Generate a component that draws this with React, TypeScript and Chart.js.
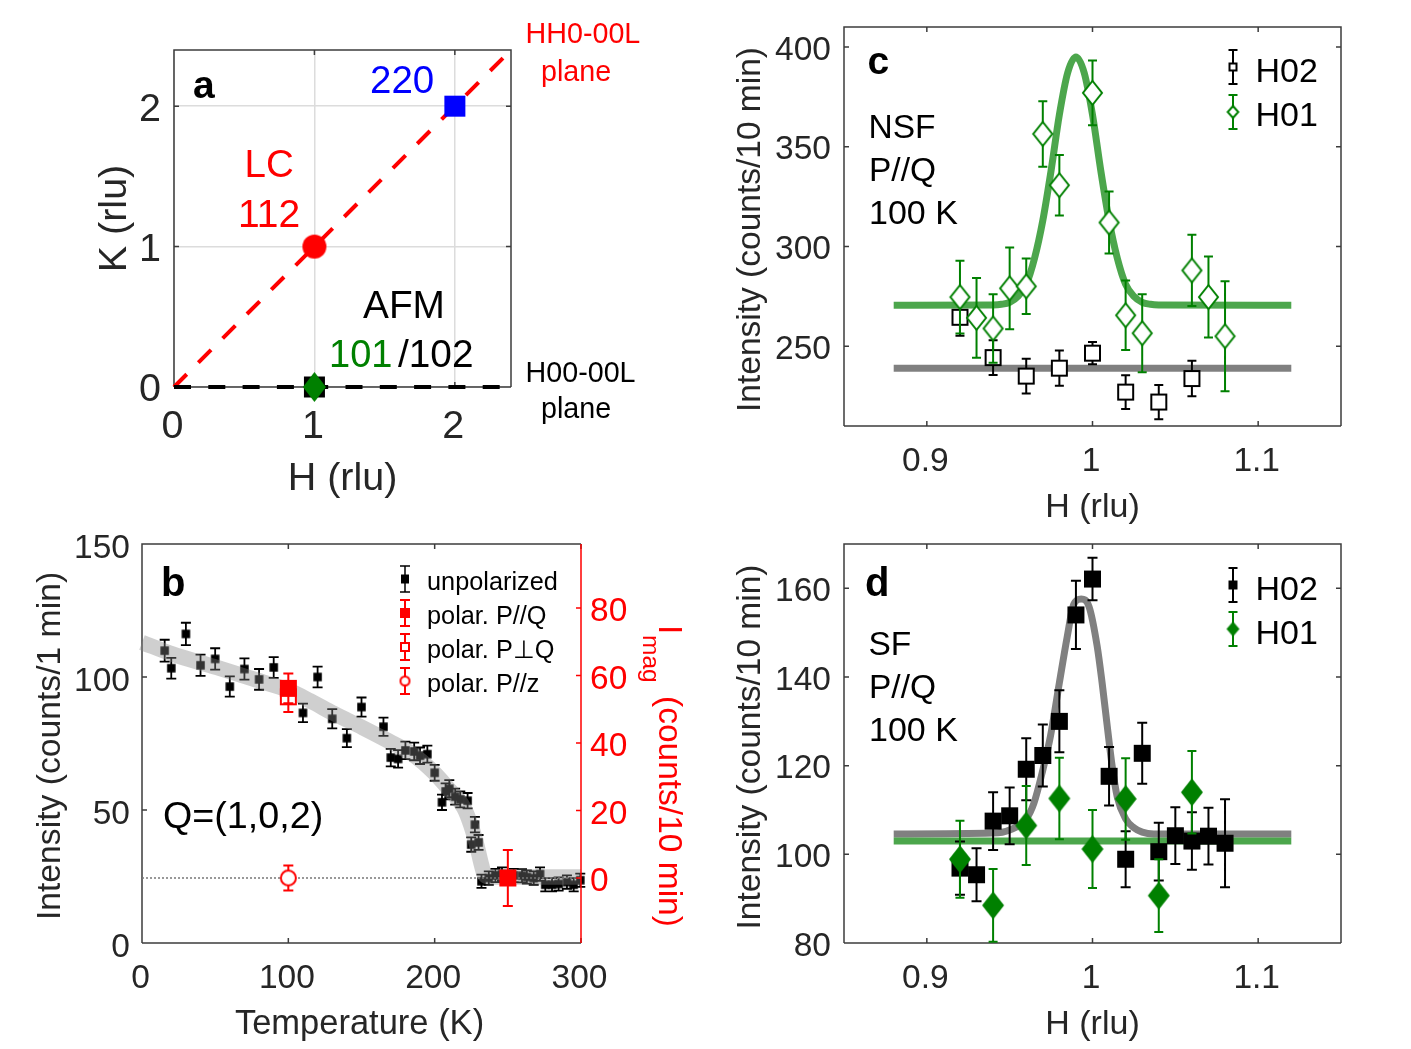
import { useEffect, useRef } from "react"
import { Chart, registerables } from "chart.js"

Chart.register(...registerables)

const FONT = '"Liberation Sans", Arial, sans-serif'
const TICK_COLOR = "#262626"
const FRAME_COLOR = "#3c3c3c"
const RED = "#ff0000"
const GREEN = "#008000"
const BLACK = "#000000"
const FIT_GREEN = "rgba(0,128,0,0.7)"
const FIT_GREY = "#808080"
const BAND_GREY = "rgba(131,131,131,0.39)"

// tick values
const aTicks = [0, 1, 2]
const bXTicks = [0, 100, 200, 300]
const bYTicks = [0, 50, 100, 150]
const bRightTicks = [0, 20, 40, 60, 80]
const scanXTicks = [0.9, 1, 1.1]
const cYTicks = [250, 300, 350, 400]
const dYTicks = [80, 100, 120, 140, 160]

// panel a: reciprocal space map
const aLineX = [0, 2.36]
const aDiagY = [0, 2.36]
const aFlatY = [0, 0]
const aBlueX = [2]
const aBlueY = [2]
const aRedX = [1]
const aRedY = [1]
const aAfmX = [1]
const aAfmY = [0]

// panel b: unpolarized order parameter
const bTemp = [15.5, 20, 30, 40, 50, 60, 70, 80, 90, 110, 120, 130, 140, 150, 165, 170, 175, 180, 186, 190, 195, 200, 205, 207.5, 210, 214, 217.5, 222.5, 225, 227.5, 230, 232, 237, 241.5, 246, 254, 259.7, 263, 267.7, 272, 275.6, 280.2, 284.7, 290.4, 295, 299.5]
const bCounts = [109.9, 103.3, 116.2, 104.4, 106.8, 96.4, 103, 99.1, 103.6, 86.5, 100, 84.3, 77, 88.7, 81.3, 69.7, 69.2, 72.4, 72, 70.4, 71, 64, 52.9, 57, 58, 55, 54, 53.5, 37, 44.5, 37.8, 23.2, 24.4, 25.4, 25.9, 25.4, 25.3, 24.8, 24.4, 25.9, 21.9, 21.9, 22.2, 22.9, 21.9, 23.6]
const bErrors = [4.1, 3.9, 4.2, 4, 4, 3.8, 4, 3.9, 3.9, 3.5, 3.9, 3.6, 3.4, 3.6, 3.4, 3.3, 3.3, 3.3, 3.3, 3.1, 3.2, 3, 2.9, 3, 3.2, 3, 3, 2.9, 2.7, 2.9, 2.8, 2.5, 2.5, 2.5, 2.5, 2.5, 2.5, 2.5, 2.5, 2.5, 2.5, 2.5, 2.5, 2.5, 2.5, 2.5]
const bFitTemp = [0, 21, 51, 78, 100, 115, 131, 151, 165, 185, 200, 210, 220, 225, 229, 232, 234, 238, 300]
const bFitCounts = [113, 108.6, 103.6, 98.9, 95, 91, 86.3, 80.9, 76.9, 70.9, 63.8, 57.6, 50.8, 43.9, 36.3, 29.4, 25.7, 24.8, 24.8]
const bZeroX = [0, 300]
const bZeroY = [0, 0]
const bParQTemp = [100, 250]
const bParQ = [56.2, 0]
const bParQErr = [4.4, 8.3]
const bPerpQTemp = [100]
const bPerpQ = [53.7]
const bPerpQErr = [4.5]
const bParZTemp = [100]
const bParZ = [0]
const bParZErr = [3.7]

// panel c: NSF scans
const cH02X = [0.92, 0.94, 0.96, 0.98, 1.0, 1.02, 1.04, 1.06]
const cH02Y = [264.5, 244.3, 235, 239, 246.5, 227, 222, 233.8]
const cH02Err = [9.2, 8.7, 8.7, 8.8, 5.6, 8.5, 8.6, 8.9]
const cH01X = [0.92, 0.93, 0.94, 0.95, 0.96, 0.97, 0.98, 1.0, 1.01, 1.02, 1.03, 1.06, 1.07, 1.08]
const cH01Y = [274.6, 264.2, 258.9, 279, 280, 356.4, 330.7, 377, 312, 265.5, 256.5, 288, 274.6, 255]
const cH01Err = [18.2, 20, 17.2, 20.5, 13.9, 16.4, 15.2, 16.2, 15.5, 17.4, 19.5, 17.9, 20.3, 27.6]
const cPeakX = [0.88, 0.94, 0.945, 0.95, 0.955, 0.96, 0.965, 0.97, 0.975, 0.98, 0.985, 0.99, 0.995, 1.0, 1.005, 1.01, 1.015, 1.02, 1.025, 1.03, 1.035, 1.04, 1.12]
const cPeakY = [270.5, 270.7, 271, 272, 275, 281, 294, 313, 338, 366, 387, 395, 387, 366, 338, 313, 294, 281, 275, 272, 271, 270.7, 270.5]
const cFlatX = [0.88, 1.12]
const cFlatY = [239, 239]

// panel d: SF scans
const dH02X = [0.92, 0.93, 0.94, 0.95, 0.96, 0.97, 0.98, 0.99, 1.0, 1.01, 1.02, 1.03, 1.04, 1.05, 1.06, 1.07, 1.08]
const dH02Y = [96.9, 95.4, 107.5, 108.7, 119.2, 122.3, 130, 154, 162.1, 117.6, 98.9, 122.8, 100.6, 104.2, 103, 104.1, 102.5]
const dH02Err = [6, 6, 6.5, 6.4, 7, 7, 7, 7.7, 4.8, 6.6, 6.3, 6.9, 6.5, 6.4, 6.5, 6.4, 9.9]
const dH01X = [0.92, 0.94, 0.96, 0.98, 1.0, 1.02, 1.04, 1.06]
const dH01Y = [98.9, 88.5, 106.5, 112.6, 101.2, 112.5, 90.7, 114]
const dH01Err = [8.7, 8.2, 8.9, 9.2, 8.8, 9.2, 8.2, 9.3]
const dPeakX = [0.88, 0.94, 0.95, 0.96, 0.9646, 0.97, 0.9746, 0.98, 0.9847, 0.9887, 0.9932, 0.9978, 1.0028, 1.0058, 1.0089, 1.0119, 1.0149, 1.02, 1.025, 1.03, 1.037, 1.12]
const dPeakY = [104.6, 104.8, 105.5, 108, 111.5, 119, 126.6, 138.7, 149, 156.4, 157.6, 156, 147, 138.7, 128.9, 119.8, 113, 108, 106, 105, 104.6, 104.6]
const dFlatX = [0.88, 1.12]
const dFlatY = [103, 103]

const bLegendLabels = ["unpolarized", "polar. P//Q", "polar. P\u22A5Q", "polar. P//z"]
const scanLegendLabels = ["H02", "H01"]

type Shape = "square" | "diamond" | "circle"

function marker(shape: Shape, w: number, h: number, fill: string, stroke = "", lw = 0) {
  const c = document.createElement("canvas")
  c.width = Math.ceil(w) + 2
  c.height = Math.ceil(h) + 2
  const ctx = c.getContext("2d")!
  const cx = c.width / 2
  const cy = c.height / 2
  const rx = (w - lw) / 2
  const ry = (h - lw) / 2
  ctx.beginPath()
  if (shape === "square") {
    ctx.rect(cx - rx, cy - ry, rx * 2, ry * 2)
  } else if (shape === "circle") {
    ctx.arc(cx, cy, rx, 0, Math.PI * 2)
  } else {
    ctx.moveTo(cx, cy - ry)
    ctx.lineTo(cx + rx, cy)
    ctx.lineTo(cx, cy + ry)
    ctx.lineTo(cx - rx, cy)
    ctx.closePath()
  }
  ctx.fillStyle = fill
  ctx.fill()
  if (lw > 0) {
    ctx.strokeStyle = stroke
    ctx.lineWidth = lw
    ctx.stroke()
  }
  return c
}

const pts = (xs: number[], ys: number[]) => xs.map((x, i) => ({ x, y: ys[i] }))

function markers(label: string, xs: number[], ys: number[], style: any, errors: number[] | null, errColor: string, errWidth: number, capHalf: number, yAxisID = "y") {
  return {
    label,
    data: pts(xs, ys),
    showLine: false,
    pointStyle: style,
    pointRadius: 5,
    clip: false,
    yAxisID,
    errors,
    errColor,
    errWidth,
    capHalf,
  }
}

function line(xs: number[], ys: number[], color: string, width: number, dash: number[] = [], yAxisID = "y") {
  return {
    data: pts(xs, ys),
    showLine: true,
    borderColor: color,
    borderWidth: width,
    borderDash: dash,
    borderCapStyle: "butt",
    cubicInterpolationMode: xs.length > 2 ? "monotone" : "default",
    pointRadius: 0,
    clip: false,
    yAxisID,
  }
}

// first in the list is painted first
const inPaintOrder = (sets: any[]) => sets.map((d, i) => ({ ...d, order: sets.length - i }))

function panelPlugin(spec: any) {
  const [ox, oy] = spec.origin
  return {
    id: "panel",
    beforeDatasetsDraw(chart: any) {
      const { ctx, chartArea: a, scales } = chart
      const hasRight = !!scales.y2
      ctx.save()
      ctx.strokeStyle = FRAME_COLOR
      ctx.lineWidth = 1.5
      ctx.beginPath()
      ctx.moveTo(a.left, a.bottom)
      ctx.lineTo(a.left, a.top)
      ctx.lineTo(a.right, a.top)
      if (!hasRight) ctx.lineTo(a.right, a.bottom)
      ctx.moveTo(a.right, a.bottom)
      ctx.lineTo(a.left, a.bottom)
      scales.x.ticks.forEach((_: any, i: number) => {
        const px = scales.x.getPixelForTick(i)
        ctx.moveTo(px, a.bottom)
        ctx.lineTo(px, a.bottom - 5)
        ctx.moveTo(px, a.top)
        ctx.lineTo(px, a.top + 5)
      })
      scales.y.ticks.forEach((_: any, i: number) => {
        const py = scales.y.getPixelForTick(i)
        ctx.moveTo(a.left, py)
        ctx.lineTo(a.left + 5, py)
        if (!hasRight) {
          ctx.moveTo(a.right, py)
          ctx.lineTo(a.right - 5, py)
        }
      })
      ctx.stroke()
      ctx.restore()
    },
    beforeDatasetDraw(chart: any, args: any) {
      const ds = chart.data.datasets[args.index]
      if (!ds.errors) return
      const { ctx, scales } = chart
      const xs = scales.x
      const ys = scales[ds.yAxisID]
      ctx.save()
      ctx.strokeStyle = ds.errColor
      ctx.lineWidth = ds.errWidth
      ctx.beginPath()
      ds.data.forEach((p: any, i: number) => {
        const x = xs.getPixelForValue(p.x)
        const top = ys.getPixelForValue(p.y + ds.errors[i])
        const bot = ys.getPixelForValue(p.y - ds.errors[i])
        ctx.moveTo(x, top)
        ctx.lineTo(x, bot)
        ctx.moveTo(x - ds.capHalf, top)
        ctx.lineTo(x + ds.capHalf, top)
        ctx.moveTo(x - ds.capHalf, bot)
        ctx.lineTo(x + ds.capHalf, bot)
      })
      ctx.stroke()
      ctx.restore()
    },
    afterDatasetsDraw(chart: any) {
      const { ctx, chartArea: a, scales } = chart
      ctx.save()
      if (scales.y2) {
        ctx.strokeStyle = RED
        ctx.lineWidth = 1.5
        ctx.beginPath()
        ctx.moveTo(a.right, a.top)
        ctx.lineTo(a.right, a.bottom)
        scales.y2.ticks.forEach((_: any, i: number) => {
          const py = scales.y2.getPixelForTick(i)
          ctx.moveTo(a.right, py)
          ctx.lineTo(a.right - 5, py)
        })
        ctx.stroke()
      }
      ctx.translate(-ox, -oy)
      ;(spec.legend || []).forEach((e: any) => {
        ctx.strokeStyle = e.color
        ctx.lineWidth = e.errWidth
        ctx.beginPath()
        ctx.moveTo(e.x, e.y - e.half)
        ctx.lineTo(e.x, e.y + e.half)
        ctx.moveTo(e.x - e.cap, e.y - e.half)
        ctx.lineTo(e.x + e.cap, e.y - e.half)
        ctx.moveTo(e.x - e.cap, e.y + e.half)
        ctx.lineTo(e.x + e.cap, e.y + e.half)
        ctx.stroke()
        ctx.drawImage(e.glyph, e.x - e.glyph.width / 2, e.y - e.glyph.height / 2)
      })
      ;(spec.notes || []).forEach((n: any) => {
        ctx.save()
        ctx.translate(n.x, n.y)
        if (n.rot) ctx.rotate((n.rot * Math.PI) / 180)
        ctx.font = `${n.bold ? "bold " : ""}${n.size}px ${FONT}`
        ctx.fillStyle = n.color || BLACK
        ctx.textBaseline = n.centred ? "middle" : "alphabetic"
        ctx.textAlign = n.centred ? "center" : "left"
        ctx.fillText(n.text, 0, 0)
        ctx.restore()
      })
      ctx.restore()
    },
  }
}

const note = (text: string, x: number, y: number, size: number, color = BLACK, bold = false, rot = 0) => ({ text, x, y, size, color, bold, rot })
// axis titles that sit a little off the centre of their axis in the reference
const axisTitle = (text: string, x: number, y: number, size: number, rot = 0) => ({ text, x, y, size, color: TICK_COLOR, rot, centred: true })

function axis(o: any) {
  return {
    type: "linear",
    min: o.min,
    max: o.max,
    position: o.position,
    afterBuildTicks: (s: any) => {
      s.ticks = o.ticks.map((value: number) => ({ value }))
    },
    afterFit: (s: any) => {
      if (o.width !== undefined) s.width = o.width
      if (o.height !== undefined) s.height = o.height
      // keep the plot box where it was asked for, whatever the labels measure
      s.paddingTop = s.paddingBottom = s.paddingLeft = s.paddingRight = 0
    },
    border: { display: false },
    grid: o.grid || { display: false, drawTicks: false },
    ticks: {
      autoSkip: false,
      maxRotation: 0,
      padding: o.padding,
      labelOffset: o.labelOffset,
      color: o.color || TICK_COLOR,
      font: { family: FONT, size: o.size, lineHeight: 1 },
      callback: (v: number) => String(v),
    },
    title: o.title
      ? {
          display: true,
          text: o.title,
          color: TICK_COLOR,
          padding: o.titlePadding,
          font: { family: FONT, size: o.titleSize, lineHeight: 1 },
        }
      : { display: false },
  }
}

function buildChart(canvas: HTMLCanvasElement, spec: any) {
  return new Chart(canvas, {
    type: "scatter",
    data: { datasets: inPaintOrder(spec.datasets) as any },
    options: {
      responsive: false,
      animation: false,
      devicePixelRatio: 1,
      layout: { autoPadding: false, padding: spec.padding },
      plugins: { legend: { display: false }, tooltip: { enabled: false }, title: { display: false } },
      scales: spec.scales,
    } as any,
    plugins: [panelPlugin(spec)],
  })
}

function panelA() {
  const w = 700, h = 510
  const grid = { display: true, drawTicks: false, color: "#dcdcdc", lineWidth: 1.5 }
  return {
    rect: [0, 0, w, h],
    origin: [0, 0],
    padding: { top: 50, right: w - 511, left: 0, bottom: 0 },
    scales: {
      x: axis({ min: 0, max: 2.4, ticks: aTicks, size: 39.5, padding: 20, labelOffset: -1.5, height: h - 387, grid, title: "H (rlu)", titleSize: 39.5, titlePadding: { bottom: 11 } }),
      y: axis({ min: 0, max: 2.4, ticks: aTicks, size: 39.5, padding: 13, labelOffset: 3.5, width: 174, grid, title: "K (rlu)", titleSize: 39.5, titlePadding: { top: 95 } }),
    },
    datasets: [
      line(aLineX, aDiagY, RED, 4, [18, 16.4]),
      line(aLineX, aFlatY, BLACK, 4, [17, 17.3]),
      markers("220", aBlueX, aBlueY, marker("square", 21, 21, "#0000ff"), null, "", 0, 0),
      markers("112", aRedX, aRedY, marker("circle", 24, 24, RED), null, "", 0, 0),
      markers("102", aAfmX, aAfmY, marker("square", 21, 21, BLACK), null, "", 0, 0),
      markers("101", aAfmX, aAfmY, marker("diamond", 23, 30, GREEN), null, "", 0, 0),
    ],
    notes: [
      note("a", 193, 98, 39, BLACK, true),
      note("220", 370, 93, 38.5, "#0000ff"),
      note("LC", 244.5, 177, 38.5, RED),
      note("112", 238, 227, 39, RED),
      note("AFM", 363, 318, 38.8),
      note("101", 329, 367, 38, GREEN),
      note("/102", 398, 367, 38.8),
      note("HH0-00L", 525.5, 43, 28.7, RED),
      note("plane", 541, 81, 28.7, RED),
      note("H00-00L", 525.5, 382, 28.7),
      note("plane", 541, 418, 28.7),
    ],
  }
}

function panelB() {
  const w = 700, h = 539, oy = 510
  const square = marker("square", 8.5, 8.5, BLACK)
  const redFilled = marker("square", 17, 17, RED)
  const redOpen = marker("square", 17, 17, "#ffffff", RED, 2)
  const redCircle = marker("circle", 17, 17, "#ffffff", RED, 2)
  const rows = [579, 613, 647, 681]
  const glyphs = [
    marker("square", 8, 9, BLACK),
    marker("square", 10, 10, RED),
    marker("square", 10, 10, "#ffffff", RED, 2),
    marker("circle", 11, 11, "#ffffff", RED, 2),
  ]
  return {
    rect: [0, oy, w, h],
    origin: [0, oy],
    padding: { top: 544 - oy, left: 0, right: 0, bottom: 0 },
    scales: {
      x: axis({ min: 0, max: 300, ticks: bXTicks, size: 33.5, padding: 19, labelOffset: -1.5, height: h - (943 - oy) }),
      y: axis({ min: 0, max: 150, ticks: bYTicks, size: 33.5, padding: 12, labelOffset: 4.5, width: 142 }),
      y2: axis({ min: -19.26, max: 98.96, ticks: bRightTicks, size: 33.5, padding: 9, labelOffset: 4, width: w - 581, position: "right", color: RED }),
    },
    datasets: [
      markers("unpolarized", bTemp, bCounts, square, bErrors, BLACK, 1.8, 5),
      line(bFitTemp, bFitCounts, BAND_GREY, 15.5),
      line(bZeroX, bZeroY, "#777777", 1.5, [2, 2], "y2"),
      markers("polar. P\u22A5Q", bPerpQTemp, bPerpQ, redOpen, bPerpQErr, RED, 2, 5, "y2"),
      markers("polar. P//Q", bParQTemp, bParQ, redFilled, bParQErr, RED, 2, 5, "y2"),
      markers("polar. P//z", bParZTemp, bParZ, redCircle, bParZErr, RED, 2, 5, "y2"),
    ],
    legend: rows.map((y, i) => ({ x: 405, y, half: 13, cap: 5, errWidth: i === 0 ? 1.5 : 2, color: i === 0 ? BLACK : RED, glyph: glyphs[i] })),
    notes: [
      note("b", 161, 596, 40, BLACK, true),
      note("Q=(1,0,2)", 163, 828, 37.7),
      ...bLegendLabels.map((t, i) => note(t, 427, 590 + i * 34, 25.3)),
      note("I", 659, 625, 33.5, RED, false, 90),
      note("mag", 643, 635, 24.5, RED, false, 90),
      note("(counts/10 min)", 659, 696, 33.5, RED, false, 90),
      axisTitle("Temperature (K)", 359.5, 1024.75, 34.5),
      axisTitle("Intensity (counts/1 min)", 50.85, 746, 33.7, -90),
    ],
  }
}

function scanAxes(oy: number, h: number, bottom: number, yMin: number, yMax: number, yTicks: number[], titleBottom: number) {
  return {
    x: axis({ min: 0.85, max: 1.15, ticks: scanXTicks, size: 33.5, padding: 19, labelOffset: -1.5, height: h - (bottom - oy), title: "H (rlu)", titleSize: 34, titlePadding: { bottom: titleBottom } }),
    y: axis({ min: yMin, max: yMax, ticks: yTicks, size: 33.5, padding: 13, labelOffset: 3.5, width: 144 }),
  }
}

function panelC() {
  const w = 711, h = 530, ox = 700, oy = 0
  const glyphs = [marker("square", 9, 9, "#ffffff", BLACK, 2), marker("diamond", 12.5, 14, "#ffffff", GREEN, 2)]
  const rows = [67, 112]
  return {
    rect: [ox, oy, w, h],
    origin: [ox, oy],
    padding: { top: 27, right: 1411 - 1341, left: 0, bottom: 0 },
    scales: scanAxes(oy, h, 426, 210, 410, cYTicks, 5),
    datasets: [
      line(cPeakX, cPeakY, FIT_GREEN, 7),
      line(cFlatX, cFlatY, FIT_GREY, 7),
      markers("H02", cH02X, cH02Y, marker("square", 17, 17, "#ffffff", BLACK, 2), cH02Err, BLACK, 2, 4.5),
      markers("H01", cH01X, cH01Y, marker("diamond", 21, 26, "#ffffff", GREEN, 2), cH01Err, GREEN, 2, 4.5),
    ],
    legend: rows.map((y, i) => ({ x: 1233, y, half: 17, cap: 4.5, errWidth: 2, color: i === 0 ? BLACK : GREEN, glyph: glyphs[i] })),
    notes: [
      note("c", 867.5, 74, 39, BLACK, true),
      note("NSF", 868.5, 138, 33.5),
      note("P//Q", 869, 181, 33.5),
      note("100 K", 869, 224, 34),
      note(scanLegendLabels[0], 1255.5, 81.5, 34),
      note(scanLegendLabels[1], 1255.5, 125.5, 34),
      axisTitle("Intensity (counts/10 min)", 750.75, 229.5, 33.5, -90),
    ],
  }
}

function panelD() {
  const w = 711, h = 519, ox = 700, oy = 530
  const glyphs = [marker("square", 9, 9, BLACK), marker("diamond", 13, 15, GREEN)]
  const rows = [585, 629]
  return {
    rect: [ox, oy, w, h],
    origin: [ox, oy],
    padding: { top: 544 - oy, right: 1411 - 1341, left: 0, bottom: 0 },
    scales: scanAxes(oy, h, 943, 80, 170, dYTicks, 7),
    datasets: [
      line(dPeakX, dPeakY, FIT_GREY, 7),
      line(dFlatX, dFlatY, FIT_GREEN, 7),
      markers("H02", dH02X, dH02Y, marker("square", 17, 17, BLACK), dH02Err, BLACK, 2, 5),
      markers("H01", dH01X, dH01Y, marker("diamond", 22, 28, GREEN), dH01Err, GREEN, 2, 4.5),
    ],
    legend: rows.map((y, i) => ({ x: 1233, y, half: 17, cap: 4.5, errWidth: 2, color: i === 0 ? BLACK : GREEN, glyph: glyphs[i] })),
    notes: [
      note("d", 865, 596, 40, BLACK, true),
      note("SF", 868.5, 655, 33.5),
      note("P//Q", 869, 698, 33.5),
      note("100 K", 869, 741, 34),
      note(scanLegendLabels[0], 1255.5, 599.5, 34),
      note(scanLegendLabels[1], 1255.5, 643.5, 34),
      axisTitle("Intensity (counts/10 min)", 750.75, 747, 33.5, -90),
    ],
  }
}

function Panel({ build }: { build: () => any }) {
  const canvasRef = useRef<HTMLCanvasElement>(null)
  const rect = build().rect

  useEffect(() => {
    if (!canvasRef.current) return
    const chart = buildChart(canvasRef.current, build())
    return () => chart.destroy()
  }, [])

  return (
    <canvas
      ref={canvasRef}
      width={rect[2]}
      height={rect[3]}
      style={{ position: "absolute", left: rect[0], top: rect[1], width: rect[2], height: rect[3] }}
    />
  )
}

export default function App() {
  return (
    <div style={{ position: "absolute", left: 0, top: 0, width: 1411, height: 1049, background: "#ffffff", overflow: "hidden" }}>
      <Panel build={panelA} />
      <Panel build={panelB} />
      <Panel build={panelC} />
      <Panel build={panelD} />
    </div>
  )
}
